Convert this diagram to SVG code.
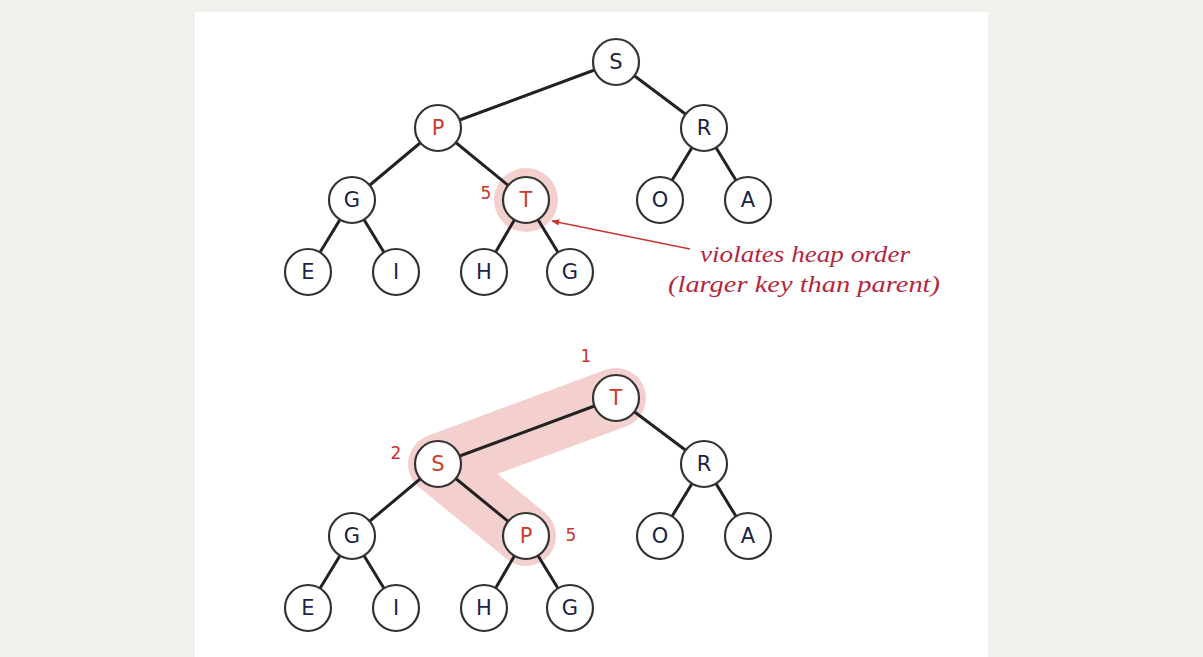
<svg xmlns="http://www.w3.org/2000/svg" width="1203" height="657" viewBox="0 0 1203 657">
  <defs>
    <style>
      .edge { stroke: #222; stroke-width: 3; fill: none; }
      .node circle { fill: #fff; stroke: #333; stroke-width: 2.2; }
      .node text { font-family: "DejaVu Sans", "Liberation Sans", sans-serif; font-size: 21px; text-anchor: middle; dominant-baseline: central; fill: #1c1f45; }
      .node.hot text { fill: #cf3b2c; }
      .idx { font-family: "DejaVu Sans", "Liberation Sans", sans-serif; font-size: 17px; fill: #c9352c; text-anchor: middle; }
      .note { font-family: "Liberation Serif", serif; font-style: italic; font-size: 24px; fill: #b3283f; }
      .halo { fill: #f3d0cd; stroke: none; }
      .path-halo { stroke: #f3d0cd; stroke-width: 60; stroke-linecap: round; stroke-linejoin: round; fill: none; }
    </style>
    <marker id="arrow" viewBox="0 0 10 10" refX="9" refY="5" markerWidth="8" markerHeight="8" orient="auto" markerUnits="userSpaceOnUse">
      <path d="M0,1 L10,5 L0,9 Z" fill="#c9352c"/>
    </marker>
  </defs>

  <rect width="1203" height="657" fill="#f2f1ee"/>
  <rect x="195" y="12" width="793" height="645" fill="#fff"/>

  <!-- highlight regions -->
  <circle class="halo" cx="526" cy="200" r="32"/>
  <polyline class="path-halo" points="616,398 438,464 526,536"/>

  <!-- connectors -->
  <g id="edges">
    <!-- upper tree -->
    <line class="edge" x1="616" y1="62" x2="438" y2="128"/>
    <line class="edge" x1="616" y1="62" x2="704" y2="128"/>
    <line class="edge" x1="438" y1="128" x2="352" y2="200"/>
    <line class="edge" x1="438" y1="128" x2="526" y2="200"/>
    <line class="edge" x1="704" y1="128" x2="660" y2="200"/>
    <line class="edge" x1="704" y1="128" x2="748" y2="200"/>
    <line class="edge" x1="352" y1="200" x2="308" y2="272"/>
    <line class="edge" x1="352" y1="200" x2="396" y2="272"/>
    <line class="edge" x1="526" y1="200" x2="484" y2="272"/>
    <line class="edge" x1="526" y1="200" x2="570" y2="272"/>
    <!-- lower tree -->
    <line class="edge" x1="616" y1="398" x2="438" y2="464"/>
    <line class="edge" x1="616" y1="398" x2="704" y2="464"/>
    <line class="edge" x1="438" y1="464" x2="352" y2="536"/>
    <line class="edge" x1="438" y1="464" x2="526" y2="536"/>
    <line class="edge" x1="704" y1="464" x2="660" y2="536"/>
    <line class="edge" x1="704" y1="464" x2="748" y2="536"/>
    <line class="edge" x1="352" y1="536" x2="308" y2="608"/>
    <line class="edge" x1="352" y1="536" x2="396" y2="608"/>
    <line class="edge" x1="526" y1="536" x2="484" y2="608"/>
    <line class="edge" x1="526" y1="536" x2="570" y2="608"/>
    <!-- annotation pointer -->
    <line x1="690" y1="249" x2="552" y2="221" stroke="#c9352c" stroke-width="1.5" marker-end="url(#arrow)"/>
  </g>

  <!-- upper tree nodes -->
  <g id="a-S" class="node"><circle cx="616" cy="62" r="23"/><text x="616" y="62">S</text></g>
  <g id="a-P" class="node hot"><circle cx="438" cy="128" r="23"/><text x="438" y="128">P</text></g>
  <g id="a-R" class="node"><circle cx="704" cy="128" r="23"/><text x="704" y="128">R</text></g>
  <g id="a-G1" class="node"><circle cx="352" cy="200" r="23"/><text x="352" y="200">G</text></g>
  <g id="a-T" class="node hot"><circle cx="526" cy="200" r="23"/><text x="526" y="200">T</text></g>
  <g id="a-O" class="node"><circle cx="660" cy="200" r="23"/><text x="660" y="200">O</text></g>
  <g id="a-A" class="node"><circle cx="748" cy="200" r="23"/><text x="748" y="200">A</text></g>
  <g id="a-E" class="node"><circle cx="308" cy="272" r="23"/><text x="308" y="272">E</text></g>
  <g id="a-I" class="node"><circle cx="396" cy="272" r="23"/><text x="396" y="272">I</text></g>
  <g id="a-H" class="node"><circle cx="484" cy="272" r="23"/><text x="484" y="272">H</text></g>
  <g id="a-G2" class="node"><circle cx="570" cy="272" r="23"/><text x="570" y="272">G</text></g>

  <!-- lower tree nodes -->
  <g id="b-T" class="node hot"><circle cx="616" cy="398" r="23"/><text x="616" y="398">T</text></g>
  <g id="b-S" class="node hot"><circle cx="438" cy="464" r="23"/><text x="438" y="464">S</text></g>
  <g id="b-R" class="node"><circle cx="704" cy="464" r="23"/><text x="704" y="464">R</text></g>
  <g id="b-G1" class="node"><circle cx="352" cy="536" r="23"/><text x="352" y="536">G</text></g>
  <g id="b-P" class="node hot"><circle cx="526" cy="536" r="23"/><text x="526" y="536">P</text></g>
  <g id="b-O" class="node"><circle cx="660" cy="536" r="23"/><text x="660" y="536">O</text></g>
  <g id="b-A" class="node"><circle cx="748" cy="536" r="23"/><text x="748" y="536">A</text></g>
  <g id="b-E" class="node"><circle cx="308" cy="608" r="23"/><text x="308" y="608">E</text></g>
  <g id="b-I" class="node"><circle cx="396" cy="608" r="23"/><text x="396" y="608">I</text></g>
  <g id="b-H" class="node"><circle cx="484" cy="608" r="23"/><text x="484" y="608">H</text></g>
  <g id="b-G2" class="node"><circle cx="570" cy="608" r="23"/><text x="570" y="608">G</text></g>

  <!-- array indices -->
  <text class="idx" x="486" y="199">5</text>
  <text class="idx" x="586" y="362">1</text>
  <text class="idx" x="396" y="459">2</text>
  <text class="idx" x="571" y="541">5</text>

  <!-- annotation -->
  <text class="note" x="700" y="262" textLength="210" lengthAdjust="spacingAndGlyphs">violates heap order</text>
  <text class="note" x="668" y="292" textLength="272" lengthAdjust="spacingAndGlyphs">(larger key than parent)</text>
</svg>
